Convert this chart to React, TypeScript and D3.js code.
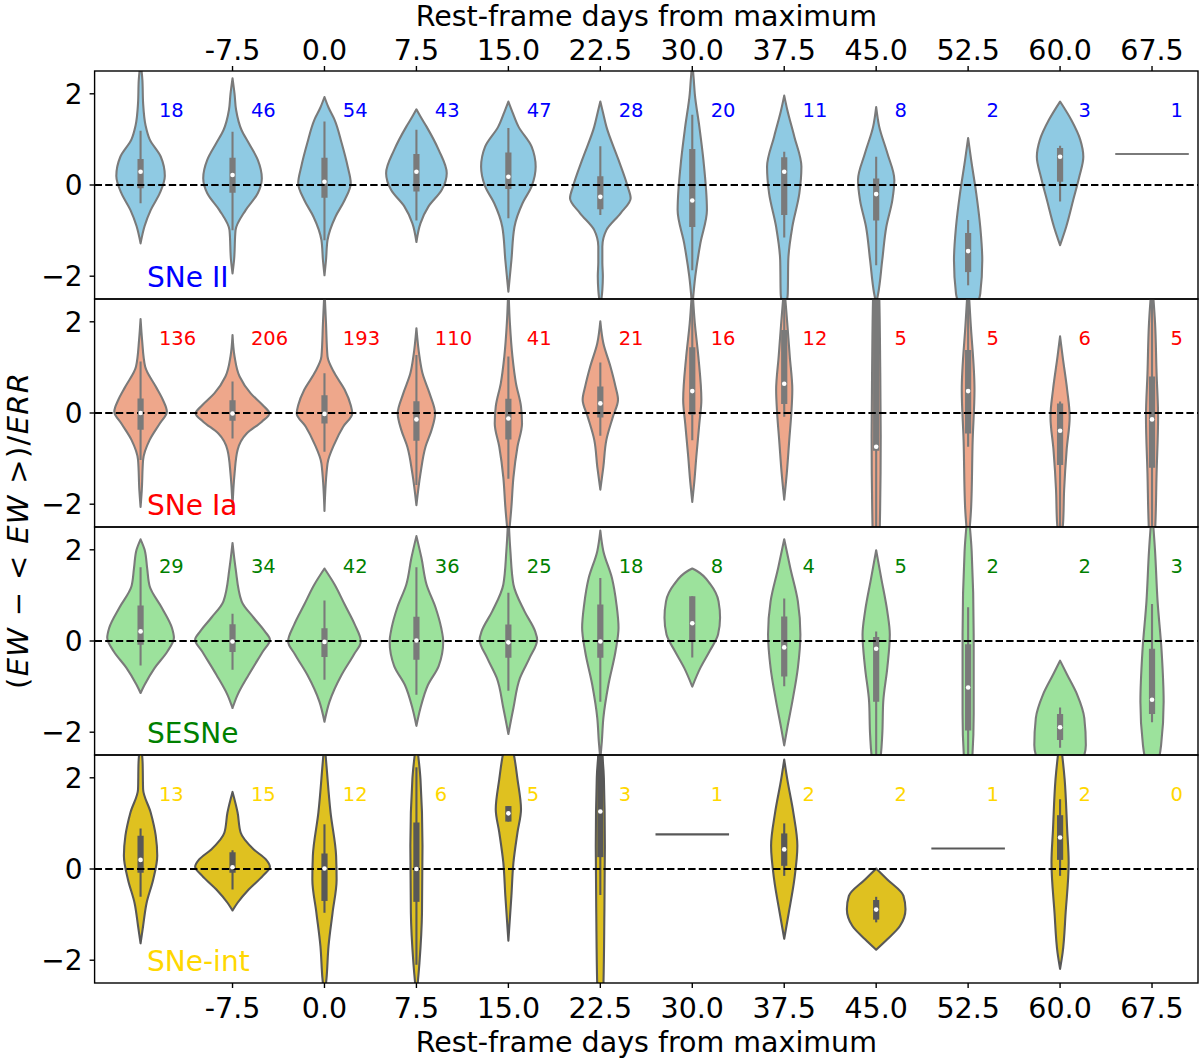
import React from "react";
import * as d3 from "d3";

type Prof = [number, number][];

const categories = ["", "-7.5", "0.0", "7.5", "15.0", "22.5", "30.0", "37.5", "45.0", "52.5", "60.0", "67.5"];
const yTicks = [-2, 0, 2];
const xAxisTitle = "Rest-frame days from maximum";

// ---------- SNe II ----------
const countsII = [18, 46, 54, 43, 47, 28, 20, 11, 8, 2, 3, 1];
const profilesII: (Prof | null)[] = [
  [[2.7, 0], [2.3, 1.8], [1.8, 2.5], [1.3, 5], [1.0, 9], [0.62, 20], [0.2, 24], [-0.18, 19], [-0.55, 10], [-0.9, 4], [-1.28, 0]],
  [[2.34, 0], [2.0, 2], [1.65, 3.5], [1.2, 9], [0.92, 16], [0.55, 25], [0.15, 29], [-0.18, 25], [-0.55, 13], [-0.99, 3], [-1.65, 1.5], [-1.94, 0]],
  [[1.93, 0], [1.7, 4], [1.43, 10], [0.92, 17], [0.4, 23], [0.04, 26], [-0.33, 20], [-0.69, 11], [-1.21, 3], [-1.65, 1.5], [-1.98, 0]],
  [[1.66, 0], [1.5, 4], [1.28, 10], [0.77, 22], [0.26, 30], [-0.11, 25], [-0.47, 12], [-0.84, 4], [-1.25, 0]],
  [[1.83, 0], [1.6, 4], [1.28, 10], [0.84, 23], [0.4, 27], [-0.03, 23], [-0.4, 14], [-0.92, 6], [-1.65, 3], [-2.34, 0]],
  [[1.83, 0], [1.6, 2.5], [1.28, 6], [0.55, 18], [-0.03, 27], [-0.29, 30], [-0.62, 20], [-0.99, 6], [-1.35, 2], [-1.7, 2], [-2.0, 2.5], [-2.3, 2], [-2.7, 0]],
  [[2.7, 0], [2.3, 1.5], [2.0, 2.5], [1.28, 7], [0.55, 11], [-0.55, 14.5], [-1.28, 8], [-2.0, 3], [-2.7, 0]],
  [[1.96, 0], [1.65, 3], [1.06, 10], [0.4, 17], [-0.18, 15], [-0.92, 8], [-1.65, 4], [-2.38, 3.5], [-2.8, 0]],
  [[1.71, 0], [1.28, 3], [0.7, 11], [0.11, 18], [-0.33, 16], [-0.92, 10], [-1.65, 6], [-2.38, 2], [-2.6, 0]],
  [[1.03, 0], [0.55, 3], [-0.18, 8], [-0.92, 12], [-1.65, 14], [-2.38, 12], [-2.9, 4], [-3.1, 0]],
  [[1.83, 0], [1.43, 11], [0.99, 20], [0.62, 23], [0.18, 19], [-0.33, 13], [-0.92, 6], [-1.32, 0]],
  null,
];
// [whisker low, q1, median, q3, whisker high]
const boxesII: (number[] | null)[] = [
  [-0.4, -0.07, 0.29, 0.57, 1.19],
  [-0.99, -0.17, 0.22, 0.6, 1.17],
  [-1.21, -0.28, 0.07, 0.6, 1.39],
  [-0.78, -0.14, 0.29, 0.68, 1.21],
  [-0.73, -0.09, 0.18, 0.71, 1.25],
  [-0.66, -0.53, -0.26, 0.19, 0.85],
  [-1.87, -0.92, -0.34, 0.79, 1.54],
  [-1.15, -0.66, 0.29, 0.61, 0.73],
  [-1.76, -0.78, -0.2, 0.14, 0.62],
  [-2.2, -1.91, -1.45, -1.05, -0.77],
  [-0.36, 0.07, 0.62, 0.81, 0.86],
  null,
];
const singlesII: (number | null)[] = [null, null, null, null, null, null, null, null, null, null, null, 0.68];

// ---------- SNe Ia ----------
const countsIa = [136, 206, 193, 110, 41, 21, 16, 12, 5, 5, 6, 5];
const profilesIa: (Prof | null)[] = [
  [[2.06, 0], [1.6, 1.5], [1.02, 4.5], [0.58, 15], [0.29, 22], [0.03, 26], [-0.23, 19], [-0.59, 9], [-1.03, 2.5], [-1.69, 1.2], [-2.06, 0]],
  [[1.71, 0], [1.24, 2], [0.8, 7], [0.43, 18], [0.17, 30], [-0.01, 36.5], [-0.19, 29], [-0.45, 14], [-0.81, 5], [-1.33, 2], [-2.06, 0]],
  [[2.7, 0], [1.97, 1.5], [1.24, 3], [0.87, 10], [0.51, 20], [0.17, 26], [-0.01, 27.5], [-0.3, 18.5], [-0.67, 10], [-1.11, 3], [-2.15, 0]],
  [[1.86, 0], [1.24, 3], [0.87, 6], [0.43, 13], [-0.01, 18.5], [-0.37, 15], [-0.74, 9], [-1.33, 4], [-2.02, 0]],
  [[2.8, 0], [1.97, 1.5], [1.24, 4], [0.65, 7.5], [0.14, 12.5], [-0.23, 13.5], [-0.74, 9], [-1.41, 5], [-2.06, 3], [-2.8, 0]],
  [[2.01, 0], [1.53, 3], [1.02, 10], [0.58, 15], [0.29, 17.5], [-0.08, 12.5], [-0.59, 6], [-1.18, 3], [-1.68, 0]],
  [[2.8, 0], [1.97, 2.5], [1.24, 6], [0.29, 9], [-0.23, 7], [-0.96, 4], [-1.51, 2], [-1.95, 0]],
  [[2.8, 0], [1.97, 3], [1.24, 5.5], [0.51, 8], [-0.01, 7], [-0.59, 5], [-1.33, 2.5], [-1.9, 0]],
  [[2.9, 0], [2.6, 3], [1.0, 4], [-0.5, 4.5], [-2.6, 3.5], [-2.9, 0]],
  [[2.9, 0], [1.97, 2.5], [0.51, 6.3], [-0.59, 4.5], [-2.06, 3], [-2.9, 0]],
  [[1.68, 0], [1.24, 2.5], [0.51, 7], [-0.08, 9.5], [-0.81, 6.5], [-1.69, 4], [-2.4, 3], [-2.9, 0]],
  [[2.9, 0], [1.97, 3], [0.87, 4.5], [-0.08, 6], [-1.33, 4.5], [-2.6, 3], [-2.9, 0]],
];
const boxesIa: (number[] | null)[] = [
  [-1.03, -0.37, 0.0, 0.32, 1.13],
  [-0.56, -0.17, -0.01, 0.28, 0.69],
  [-0.85, -0.23, -0.02, 0.39, 0.87],
  [-1.58, -0.61, -0.14, 0.26, 1.27],
  [-1.44, -0.58, -0.12, 0.31, 1.24],
  [-0.5, -0.1, 0.21, 0.58, 1.11],
  [-0.6, -0.04, 0.48, 1.44, 2.7],
  [-0.08, 0.2, 0.64, 1.82, 2.7],
  [-2.7, -0.83, -0.74, 2.7, 2.8],
  [-0.74, -0.45, 0.48, 1.38, 2.7],
  [-2.7, -1.14, -0.39, 0.21, 0.25],
  [-2.7, -1.2, -0.14, 0.8, 2.7],
];
const singlesIa: (number | null)[] = [null, null, null, null, null, null, null, null, null, null, null, null];

// ---------- SESNe ----------
const countsSE = [29, 34, 42, 36, 25, 18, 8, 4, 5, 2, 2, 3];
const profilesSE: (Prof | null)[] = [
  [[2.23, 0], [2.0, 4], [1.6, 6.5], [1.2, 9], [0.73, 21], [0.29, 31], [0.07, 33], [-0.23, 26.5], [-0.59, 14], [-0.96, 4], [-1.14, 0]],
  [[2.15, 0], [1.6, 3], [0.87, 9], [0.51, 21], [0.21, 32], [0.03, 37], [-0.23, 30], [-0.74, 16], [-1.18, 5], [-1.47, 0]],
  [[1.59, 0], [1.24, 10], [0.8, 20], [0.36, 30], [-0.01, 36], [-0.3, 29], [-0.74, 17], [-1.33, 5], [-1.77, 0]],
  [[2.3, 0], [1.82, 5], [1.24, 10], [0.73, 19], [0.29, 24.5], [-0.01, 26.5], [-0.55, 22], [-0.96, 11.5], [-1.47, 4], [-1.86, 0]],
  [[2.8, 0], [1.97, 2], [1.24, 5], [0.65, 16], [0.21, 26.5], [0.03, 28.5], [-0.37, 21], [-0.81, 11.5], [-1.47, 5], [-2.04, 0]],
  [[2.42, 0], [1.97, 3], [1.38, 11.5], [0.8, 16], [0.29, 18], [-0.23, 15], [-0.96, 8], [-1.69, 3], [-2.2, 1.5], [-2.6, 0]],
  [[1.59, 0], [1.53, 5], [1.24, 18], [0.87, 26], [0.51, 27.5], [0.14, 25.5], [-0.23, 17], [-0.59, 8], [-1.0, 0]],
  [[2.23, 0], [1.6, 6], [0.87, 13.5], [0.14, 16], [-0.59, 13.5], [-1.33, 8], [-1.91, 3], [-2.29, 0]],
  [[1.99, 0], [1.38, 5], [0.65, 11], [0.14, 13.5], [-0.59, 11], [-1.33, 7], [-2.06, 6], [-2.6, 4], [-2.9, 0]],
  [[2.9, 0], [1.97, 3.5], [0.14, 5.5], [-1.6, 5.5], [-2.6, 4], [-2.9, 0]],
  [[-0.43, 0], [-0.74, 7], [-1.18, 17], [-1.69, 24], [-2.28, 25.5], [-2.7, 20], [-3.0, 0]],
  [[2.9, 0], [1.97, 3], [0.87, 5.5], [-0.23, 9.5], [-1.33, 11.5], [-2.28, 9], [-2.7, 5], [-2.9, 0]],
];
const boxesSE: (number[] | null)[] = [
  [-0.54, -0.08, 0.21, 0.78, 1.62],
  [-0.63, -0.24, -0.01, 0.37, 0.6],
  [-0.85, -0.35, -0.02, 0.28, 0.89],
  [-1.18, -0.41, 0.01, 0.53, 1.62],
  [-1.09, -0.37, -0.03, 0.36, 1.06],
  [-1.33, -0.37, -0.01, 0.8, 1.38],
  [-0.36, 0.0, 0.39, 0.98, 0.98],
  [-0.99, -0.78, -0.14, 0.54, 0.93],
  [-2.7, -1.33, -0.17, 0.09, 0.21],
  [-2.7, -1.96, -1.02, -0.07, 0.74],
  [-2.34, -2.17, -1.89, -1.6, -1.46],
  [-1.78, -1.6, -1.29, -0.17, 0.81],
];
const singlesSE: (number | null)[] = [null, null, null, null, null, null, null, null, null, null, null, null];

// ---------- SNe-int ----------
const countsInt = [13, 15, 12, 6, 5, 3, 1, 2, 2, 1, 2, 0];
const profilesInt: (Prof | null)[] = [
  [[2.8, 0], [2.34, 2], [1.75, 2.5], [1.24, 10], [0.73, 15], [0.29, 16.5], [-0.23, 12.5], [-0.74, 6], [-1.25, 2.5], [-1.63, 0]],
  [[1.69, 0], [1.24, 5], [0.8, 8], [0.43, 21], [0.21, 33], [0.05, 37], [-0.15, 30], [-0.45, 16], [-0.74, 5], [-0.91, 0]],
  [[2.8, 0], [2.26, 2], [1.24, 6], [0.29, 11.5], [-0.23, 12], [-0.96, 8], [-1.69, 4], [-2.4, 2], [-2.8, 0]],
  [[2.8, 0], [1.97, 4], [0.51, 6], [-0.96, 5.5], [-2.06, 3], [-2.8, 0]],
  [[3.0, 0], [2.5, 5.5], [1.97, 9], [1.31, 12.5], [0.8, 9], [0.14, 5], [-0.59, 3], [-1.57, 0]],
  [[2.9, 0], [2.0, 3.5], [0.5, 4.5], [-1.0, 4], [-2.6, 3], [-2.9, 0]],
  null,
  [[2.4, 0], [1.97, 3], [1.24, 9], [0.51, 13], [-0.23, 10], [-0.96, 4.5], [-1.53, 0]],
  [[0.01, 0], [-0.23, 11], [-0.59, 27], [-0.88, 29], [-1.25, 23.5], [-1.54, 11], [-1.77, 0]],
  null,
  [[2.9, 0], [1.97, 4.5], [0.87, 7], [0.14, 8.5], [-0.96, 5.5], [-1.84, 2.5], [-2.19, 0]],
  null,
];
const boxesInt: (number[] | null)[] = [
  [-0.61, -0.08, 0.2, 0.73, 0.89],
  [-0.45, -0.08, 0.04, 0.37, 0.41],
  [-0.96, -0.7, 0.01, 0.34, 0.98],
  [-2.1, -0.72, 0.0, 1.02, 2.23],
  [1.04, 1.04, 1.22, 1.38, 1.38],
  [-0.57, 0.26, 1.26, 2.7, 2.8],
  null,
  [-0.15, 0.07, 0.43, 0.78, 1.0],
  [-1.17, -1.11, -0.89, -0.68, -0.61],
  null,
  [-0.15, 0.2, 0.69, 1.18, 1.53],
  null,
];
const singlesInt: (number | null)[] = [null, null, null, null, null, null, 0.76, null, null, 0.45, null, null];

const panelNames = ["SNe II", "SNe Ia", "SESNe", "SNe-int"];
const textColors = ["#0000ff", "#ff0000", "#008000", "#ffd700"];
const fillColors = ["#8fcae3", "#eea78b", "#9ce29c", "#dfc120"];
const lineGrays = ["#7a7a7a", "#7a7a7a", "#7a7a7a", "#585858"];

const panels = [
  { counts: countsII, profiles: profilesII, boxes: boxesII, singles: singlesII },
  { counts: countsIa, profiles: profilesIa, boxes: boxesIa, singles: singlesIa },
  { counts: countsSE, profiles: profilesSE, boxes: boxesSE, singles: singlesSE },
  { counts: countsInt, profiles: profilesInt, boxes: boxesInt, singles: singlesInt },
];

const FONT = "'DejaVu Sans', Verdana, sans-serif";

export default function App() {
  const W = 1200;
  const H = 1062;
  const left = 94.6;
  const right = 1198;
  const top = 71;
  const panelH = 228;

  const x = d3
    .scalePoint<number>()
    .domain(d3.range(categories.length))
    .range([left, right])
    .padding(0.5);
  const step = x.step();
  // density (measured half-width units) -> pixels
  const dens = d3.scaleLinear().domain([0, 36.4]).range([0, 0.4 * step]);

  const bottom = top + panelH * panels.length;
  const midX = (left + right) / 2;

  return (
    <svg
      width={W}
      height={H}
      viewBox={`0 0 ${W} ${H}`}
      style={{ position: "absolute", left: 0, top: 0, background: "#fff" }}
      fontFamily={FONT}
    >
      <rect x={0} y={0} width={W} height={H} fill="#fff" />
      <defs>
        {panels.map((_, pi) => (
          <clipPath id={`clip${pi}`} key={pi}>
            <rect x={left} y={top + pi * panelH} width={right - left} height={panelH} />
          </clipPath>
        ))}
      </defs>

      {panels.map((p, pi) => {
        const y0 = top + pi * panelH;
        const y = d3.scaleLinear().domain([-2.5, 2.5]).range([y0 + panelH, y0]);
        const gray = lineGrays[pi];
        return (
          <g key={pi}>
            <g clipPath={`url(#clip${pi})`}>
              {p.profiles.map((prof, i) => {
                if (!prof) return null;
                const cx = x(i)!;
                const area = d3
                  .area<[number, number]>()
                  .y((d) => y(d[0]))
                  .x0((d) => cx - dens(d[1]))
                  .x1((d) => cx + dens(d[1]))
                  .curve(d3.curveMonotoneY);
                return (
                  <path
                    key={`v${i}`}
                    d={area(prof) || ""}
                    fill={fillColors[pi]}
                    stroke={gray}
                    strokeWidth={2.1}
                    strokeLinejoin="round"
                  />
                );
              })}
              {p.boxes.map((b, i) => {
                if (!b) return null;
                const cx = x(i)!;
                return (
                  <g key={`b${i}`}>
                    <line x1={cx} x2={cx} y1={y(b[0])} y2={y(b[4])} stroke={gray} strokeWidth={2.1} />
                    <line x1={cx} x2={cx} y1={y(b[1])} y2={y(b[3])} stroke={gray} strokeWidth={6.2} />
                  </g>
                );
              })}
              {p.singles.map((v, i) => {
                if (v === null) return null;
                const cx = x(i)!;
                return (
                  <line
                    key={`s${i}`}
                    x1={cx - 0.4 * step}
                    x2={cx + 0.4 * step}
                    y1={y(v)}
                    y2={y(v)}
                    stroke={gray}
                    strokeWidth={2.1}
                  />
                );
              })}
              <line
                x1={left}
                x2={right}
                y1={y(0)}
                y2={y(0)}
                stroke="#000"
                strokeWidth={2}
                strokeDasharray="7.4,3.2"
              />
              {p.boxes.map((b, i) => {
                if (!b) return null;
                return <circle key={`m${i}`} cx={x(i)!} cy={y(b[2])} r={2.3} fill="#fff" />;
              })}
            </g>

            {p.counts.map((c, i) => (
              <text
                key={`c${i}`}
                x={x(i)! + 0.2 * step}
                y={y(1.5)}
                fontSize={19.5}
                fill={textColors[pi]}
              >
                {c}
              </text>
            ))}

            <text x={x(0)! + 6.5} y={y(-2.24)} fontSize={28} fill={textColors[pi]}>
              {panelNames[pi]}
            </text>

            <rect
              x={left}
              y={y0}
              width={right - left}
              height={panelH}
              fill="none"
              stroke="#000"
              strokeWidth={1.4}
            />

            {yTicks.map((t) => (
              <g key={`yt${t}`}>
                <line x1={left - 5} x2={left} y1={y(t)} y2={y(t)} stroke="#000" strokeWidth={1.4} />
                <text x={left - 12} y={y(t)} dy="0.36em" textAnchor="end" fontSize={28} fill="#000">
                  {t < 0 ? `\u2212${Math.abs(t)}` : `${t}`}
                </text>
              </g>
            ))}
          </g>
        );
      })}

      {/* top axis */}
      {categories.map((c, i) =>
        c === "" ? null : (
          <g key={`tt${i}`}>
            <line x1={x(i)!} x2={x(i)!} y1={top - 5} y2={top} stroke="#000" strokeWidth={1.4} />
            <text x={x(i)!} y={top - 11.5} textAnchor="middle" fontSize={28.5} fill="#000">
              {c}
            </text>
          </g>
        )
      )}
      <text x={midX} y={26} textAnchor="middle" fontSize={28.5} fill="#000">
        {xAxisTitle}
      </text>

      {/* bottom axis */}
      {categories.map((c, i) =>
        c === "" ? null : (
          <g key={`bt${i}`}>
            <line x1={x(i)!} x2={x(i)!} y1={bottom} y2={bottom + 5} stroke="#000" strokeWidth={1.4} />
            <text x={x(i)!} y={bottom + 35} textAnchor="middle" fontSize={28.5} fill="#000">
              {c}
            </text>
          </g>
        )
      )}
      <text x={midX} y={bottom + 69} textAnchor="middle" fontSize={28.5} fill="#000">
        {xAxisTitle}
      </text>

      {/* y label */}
      <text
        transform={`translate(28, ${(top + bottom) / 2 + 4}) rotate(-90)`}
        textAnchor="middle"
        fontSize={29}
        fill="#000"
        textLength={316}
        lengthAdjust="spacing"
        style={{ whiteSpace: "pre" }}
      >
        <tspan>(</tspan>
        <tspan fontStyle="italic">EW</tspan>
        <tspan>{" \u2212 < "}</tspan>
        <tspan fontStyle="italic">EW</tspan>
        <tspan>{" >)/"}</tspan>
        <tspan fontStyle="italic">ERR</tspan>
      </text>
    </svg>
  );
}
